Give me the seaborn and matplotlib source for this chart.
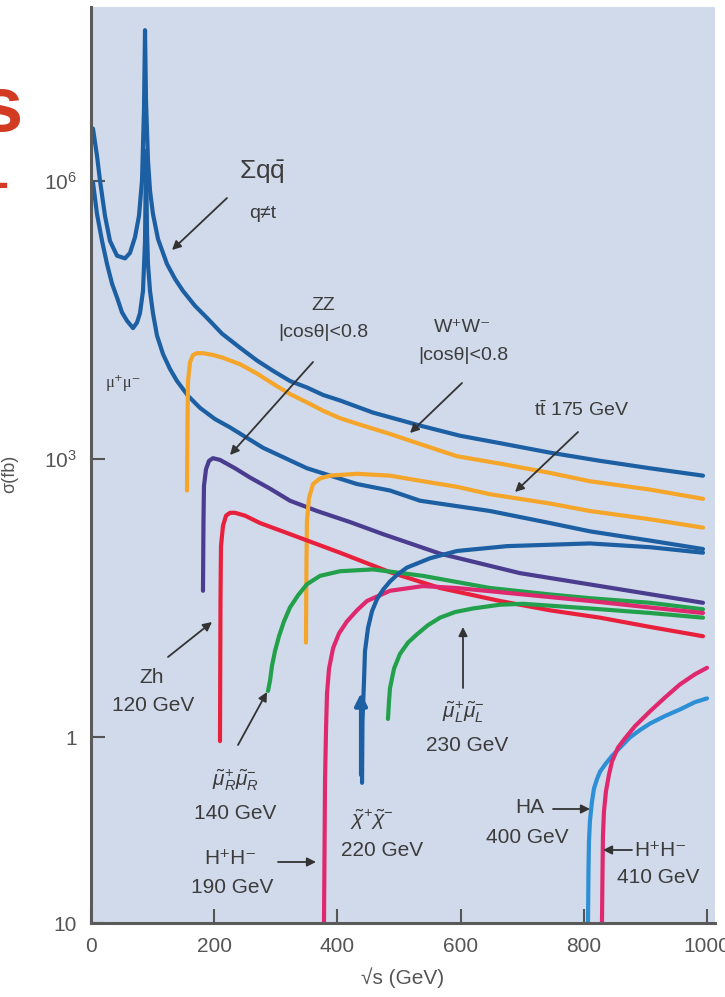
import matplotlib
matplotlib.use("Agg")
import pandas as pd
import matplotlib.pyplot as plt
import seaborn as sns

# sqrt(s) in GeV, cross section in fb
qq_x = [3.2, 9.7, 14.6, 22.7, 30.8, 42.2, 55.2, 63.3, 71.4, 77.9, 82.8, 86, 87.7, 89.3, 92.5, 95.8, 100.6,
        108.8, 123.4, 136.4, 149.4, 168.8, 188.3, 212.7, 241.9, 269.5, 295.5, 323, 350.6, 376.6, 404.2,
        457.8, 534.1, 599, 664, 745.1, 826.3, 907.5, 993.5]
qq_y = [3.63e6, 1.86e6, 1.0e6, 4.17e5, 2.24e5, 1.55e5, 1.45e5, 1.66e5, 2.45e5, 4.17e5, 1.0e6, 5.75e6,
        4.17e7, 7.24e6, 1.66e6, 7.76e5, 4.37e5, 2.34e5, 1.26e5, 8.71e4, 6.46e4, 4.47e4, 3.31e4, 2.24e4,
        1.58e4, 1.15e4, 8.91e3, 6.92e3, 5.89e3, 4.90e3, 4.27e3, 3.16e3, 2.29e3, 1.78e3, 1.48e3, 1.17e3,
        955, 794, 661]

mumu_x = [3.2, 9.7, 17.9, 26, 34.1, 42.2, 50.3, 58.4, 68.2, 74.7, 79.5, 84.4, 87.7, 89.3, 90.9, 92.5,
          95.8, 100.6, 107.1, 116.9, 128.2, 139.6, 157.5, 177, 201.3, 225.6, 279.2, 350.6, 431.8, 485.4,
          534.1, 647.7, 745.1, 810, 907.5, 993.5]
mumu_y = [9.55e5, 4.37e5, 2.24e5, 1.26e5, 7.76e4, 5.50e4, 3.80e4, 3.09e4, 2.57e4, 2.95e4, 3.72e4, 6.46e4,
          2.24e5, 2.09e6, 2.88e5, 1.26e5, 6.46e4, 3.72e4, 2.14e4, 1.35e4, 9.33e3, 6.92e3, 4.79e3, 3.55e3,
          2.69e3, 2.19e3, 1.32e3, 794, 537, 457, 355, 275, 204, 166, 132, 107]

ww_x = [155.8, 156.7, 157.5, 160.7, 165.6, 172.1, 181.8, 198, 214.3, 241.9, 269.5, 295.5, 323, 350.6,
        376.6, 404.2, 431.8, 485.4, 534.1, 594.2, 664, 745.1, 810, 907.5, 993.5]
ww_y = [457, 2.57e3, 6.92e3, 1.10e4, 1.32e4, 1.38e4, 1.38e4, 1.32e4, 1.23e4, 1.05e4, 8.32e3, 6.46e3,
        5.01e3, 4.07e3, 3.31e3, 2.75e3, 2.40e3, 1.86e3, 1.45e3, 1.07e3, 891, 708, 575, 468, 372]

zz_x = [181.8, 182.6, 183.4, 186.7, 191.6, 198, 209.4, 233.8, 258.1, 290.6, 323, 366.9, 420.5, 474,
        566.6, 696.1, 826.3, 993.5]
zz_y = [38.0, 214, 513, 776, 955, 1.02e3, 977, 794, 631, 479, 355, 275, 209, 155, 95.5, 58.9, 42.7, 28.2]

tt_x = [349, 349.8, 350.6, 353.9, 360.4, 371.8, 388, 431.8, 485.4, 539, 594.2, 647.7, 745.1, 810,
        907.5, 993.5]
tt_y = [10.5, 79.4, 214, 380, 537, 617, 661, 692, 661, 575, 501, 417, 331, 275, 224, 182]

zh_x = [209.4, 210.2, 211, 214.3, 219.2, 225.6, 233.8, 250, 274.4, 323, 404.2, 485.4, 566.6, 664,
        745.1, 826.3, 907.5, 993.5]
zh_y = [0.912, 29.5, 115, 191, 245, 263, 263, 245, 204, 155, 97.7, 60.3, 40.7, 29.5, 23.4, 19.5,
        15.5, 12.3]

smuR_x = [287.3, 290.6, 293.8, 298.7, 305.2, 313.3, 323, 336, 350.6, 371.8, 404.2, 457.8, 539, 647.7,
          745.1, 810, 907.5, 993.5]
smuR_y = [3.16, 4.07, 5.89, 8.51, 12.3, 17.8, 25.1, 33.9, 44.7, 55.0, 61.7, 64.6, 55.0, 40.7, 34.7,
          31.6, 28.2, 24.0]

hpm190_x = [378.2, 379.1, 379.9, 381.5, 383.1, 386.4, 392.9, 402.6, 415.6, 431.8, 448, 485.4, 539,
            594.2, 701.3, 810, 907.5, 993.5]
hpm190_y = [9.77e-3, 0.0589, 0.339, 1.17, 2.95, 5.50, 9.12, 13.2, 17.8, 23.4, 29.5, 38.0, 42.7, 40.7,
            34.7, 29.5, 25.1, 21.9]

chi_x = [440, 440.7, 443.2, 444.8, 449.7, 456.2, 464.3, 474, 485.4, 498.4, 513, 550.3, 594.2, 675.3,
         810, 907.5, 993.5]
chi_y = [0.324, 1.48, 4.07, 8.51, 15.1, 22.9, 30.9, 38.9, 47.9, 57.5, 67.6, 85.1, 102, 115, 123, 112,
         97.7]

smuL_x = [482.1, 483.8, 485.4, 491.9, 501.6, 514.6, 529.2, 547.1, 566.6, 590.9, 620.1, 664, 701.3, 810,
          907.5, 993.5]
smuL_y = [1.58, 2.45, 3.39, 5.50, 7.94, 10.5, 12.9, 16.2, 19.5, 22.4, 24.5, 26.9, 27.5, 24.5, 21.9, 19.5]

ha_x = [806.8, 807.6, 808.4, 810, 813.3, 816.6, 821.4, 826.3, 836, 845.8, 858.8, 875, 891.2, 907.5,
        931.8, 956.1, 980.5, 1000]
ha_y = [9.77e-3, 0.0363, 0.0759, 0.126, 0.204, 0.282, 0.355, 0.427, 0.525, 0.631, 0.776, 1.0, 1.20,
        1.41, 1.70, 2.0, 2.40, 2.63]

hpm410_x = [829.5, 830.4, 831.1, 832.7, 836, 840.9, 845.8, 855.5, 866.9, 883.1, 907.5, 931.8, 956.1,
            980.5, 1000]
hpm410_y = [9.77e-3, 0.0363, 0.0851, 0.158, 0.263, 0.398, 0.550, 0.776, 0.977, 1.32, 1.91, 2.69, 3.72,
            4.79, 5.62]

x_ticks = [0, 200, 400, 600, 800, 1000]
y_ticks = [1e6, 1e3, 1, 1e-2]
y_ticklabels = ["$10^6$", "$10^3$", "1", "10"]

BLUE = "#1d5fa3"
LIGHTBLUE = "#2d8fd6"
ORANGE = "#f5a52a"
PURPLE = "#4a3c8f"
RED = "#e8203c"
MAGENTA = "#e0286e"
GREEN = "#22a04b"
TXT = "#3c3c3c"

curves = {
    "qq": (qq_x, qq_y, BLUE),
    "mumu": (mumu_x, mumu_y, BLUE),
    "WW": (ww_x, ww_y, ORANGE),
    "ZZ": (zz_x, zz_y, PURPLE),
    "tt": (tt_x, tt_y, ORANGE),
    "Zh": (zh_x, zh_y, RED),
    "smuR": (smuR_x, smuR_y, GREEN),
    "HpHm190": (hpm190_x, hpm190_y, MAGENTA),
    "chi": (chi_x, chi_y, BLUE),
    "smuL": (smuL_x, smuL_y, GREEN),
    "HA": (ha_x, ha_y, LIGHTBLUE),
    "HpHm410": (hpm410_x, hpm410_y, MAGENTA),
}

df = pd.concat([pd.DataFrame({"sqrts": x, "sigma": y, "proc": name})
                for name, (x, y, _) in curves.items()], ignore_index=True)
palette = {name: c for name, (_, _, c) in curves.items()}

sns.set_theme(style="ticks")
plt.rcParams["font.family"] = ["Liberation Sans", "DejaVu Sans"]
plt.rcParams["mathtext.fontset"] = "custom"
plt.rcParams["mathtext.rm"] = "Liberation Sans"
plt.rcParams["mathtext.it"] = "Liberation Sans:italic"
plt.rcParams["mathtext.bf"] = "Liberation Sans:bold"

fig = plt.figure(figsize=(7.25, 9.97), dpi=100)
ax = fig.add_axes([91 / 725, 1 - 923 / 997, 624 / 725, 916 / 997])
ax.set_facecolor("#d0daea")

sns.lineplot(data=df, x="sqrts", y="sigma", hue="proc", palette=palette,
             sort=False, estimator=None, linewidth=3, legend=False, ax=ax)
for line in ax.get_lines():
    line.set_solid_joinstyle("round")

ax.set_yscale("log")
ax.set_xlim(0, 1013)
ax.set_ylim(1e-2, 10 ** 7.87)
ax.set_xticks(x_ticks)
ax.set_xticklabels([str(t) for t in x_ticks])
ax.set_yticks(y_ticks)
ax.set_yticklabels(y_ticklabels)
ax.minorticks_off()
ax.tick_params(direction="in", length=10, width=1.5, color="#555555",
               labelcolor="#555555", labelsize=15, pad=10)
for side in ["top", "right"]:
    ax.spines[side].set_visible(False)
for side in ["left", "bottom"]:
    ax.spines[side].set_color("#5a5a5a")
    ax.spines[side].set_linewidth(2.2)

ax.set_xlabel("√s (GeV)", fontsize=15, color="#555555", labelpad=8)
ax.set_ylabel("σ(fb)", fontsize=13, color="#555555")
ax.yaxis.set_label_coords(-0.117, 0.49)


def frac(px, py):
    # reference pixel position -> axes fraction
    return ((px - 91) / 624, (923 - py) / 916)


def label(px, py, s, size=15, **kw):
    ax.text(*frac(px, py), s, transform=ax.transAxes, ha="center", va="center",
            fontsize=size, color=TXT, **kw)


def arrow(p0, p1, color="#333333", lw=1.3, ms=13):
    ax.annotate("", xy=frac(*p1), xytext=frac(*p0), xycoords="axes fraction",
                textcoords="axes fraction",
                arrowprops=dict(arrowstyle="-|>", color=color, lw=lw,
                                mutation_scale=ms, shrinkA=0, shrinkB=0))


label(262, 172, r"$\Sigma\mathrm{q}\bar{\mathrm{q}}$", size=19)
label(263, 213, "q≠t", size=14)
arrow((227, 198), (172, 250))

label(323, 305, "ZZ", size=14)
label(323, 332, "|cosθ|<0.8", size=14)
arrow((313, 362), (230, 455))

label(463, 327, "W⁺W⁻", size=14)
label(463, 355, "|cosθ|<0.8", size=14)
arrow((462, 383), (410, 433))

label(582, 410, r"t$\bar{\mathrm{t}}$ 175 GeV", size=14)
arrow((578, 432), (515, 492))

label(123, 383, "μ⁺μ⁻", size=12, family=["Liberation Serif", "DejaVu Serif"])

label(152, 677, "Zh")
label(153, 705, "120 GeV")
arrow((168, 657), (212, 622))

label(235, 780, r"$\tilde{\mu}^{+}_{R}\tilde{\mu}^{-}_{R}$", size=15)
label(235, 813, "140 GeV")
arrow((238, 745), (267, 692))

label(230, 858, "H⁺H⁻")
label(232, 887, "190 GeV")
arrow((278, 862), (316, 862))

label(372, 820, r"$\tilde{\chi}^{+}\tilde{\chi}^{-}$", size=15)
label(382, 850, "220 GeV")
arrow((361, 775), (361, 693), color=BLUE, lw=3, ms=18)

label(463, 712, r"$\tilde{\mu}^{+}_{L}\tilde{\mu}^{-}_{L}$", size=15)
label(467, 745, "230 GeV")
arrow((463, 688), (463, 627))

label(530, 807, "HA")
label(527, 837, "400 GeV")
arrow((553, 809), (590, 809))

label(660, 850, "H⁺H⁻")
label(658, 877, "410 GeV")
arrow((632, 850), (603, 850))

# remnants of the slide title cut off at the left edge
fig.text(23 / 725, 1 - 110 / 997, "s", color="#d23a22", fontsize=56,
         fontweight="bold", ha="right", va="center")
fig.text(8 / 725, 1 - 186 / 997, "–", color="#d23a22", fontsize=40,
         fontweight="bold", ha="right", va="center")

fig.savefig("out.png", dpi=100, facecolor="white")
